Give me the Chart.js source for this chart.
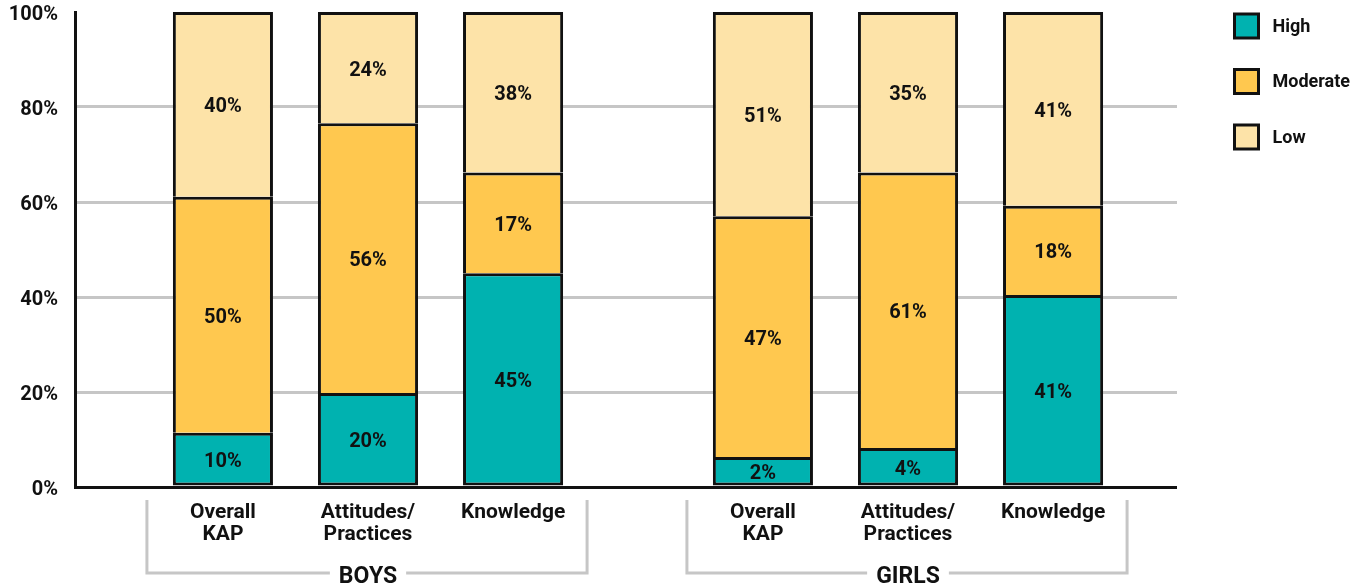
<!DOCTYPE html>
<html>
<head>
<meta charset="utf-8">
<script src="https://cdn.jsdelivr.net/npm/chart.js"></script>
<style>
  body { margin: 0; background: #fff; }
</style>
</head>
<body>
<canvas id="myChart" width="1366" height="585"></canvas>
<script>
const groups = ['BOYS', 'GIRLS'];
const measures = [['Overall', 'KAP'], ['Attitudes/', 'Practices'], ['Knowledge']];
const levels = ['High', 'Moderate', 'Low'];
const yTicks = [0, 20, 40, 60, 80, 100];

// printed percentages, order: Overall KAP, Attitudes/Practices, Knowledge
const boysHigh = [10, 20, 45];
const boysModerate = [50, 56, 17];
const boysLow = [40, 24, 38];
const girlsHigh = [2, 4, 41];
const girlsModerate = [47, 61, 18];
const girlsLow = [51, 35, 41];

// segment heights as drawn in the original (small ones are stretched there)
const boysHighDrawn = [11.4, 19.8, 45.0];
const boysModerateDrawn = [49.7, 56.8, 21.2];
const boysLowDrawn = [38.9, 23.4, 33.8];
const girlsHighDrawn = [6.3, 8.2, 40.4];
const girlsModerateDrawn = [50.7, 58.0, 18.8];
const girlsLowDrawn = [43.0, 33.8, 40.8];

const colors = ['#00b2b0', '#ffc84f', '#fde3a8'];
const ink = '#111';
const gridGrey = '#c6c6c6';
const font = 'Roboto';

Chart.defaults.font.family = font;

const printed = [[boysHigh, girlsHigh], [boysModerate, girlsModerate], [boysLow, girlsLow]];
const drawn = [[boysHighDrawn, girlsHighDrawn], [boysModerateDrawn, girlsModerateDrawn], [boysLowDrawn, girlsLowDrawn]];

// one stack per measure, BOYS and GIRLS as the two categories
const datasets = [];
measures.forEach((lines, m) => {
  levels.forEach((name, l) => {
    datasets.push({
      label: name,
      data: drawn[l].map(arr => arr[m]),
      printed: printed[l].map(arr => arr[m]),
      stack: 'm' + m,
      backgroundColor: colors[l],
      borderColor: ink,
      borderWidth: l === 0 ? 3 : {top: 3, left: 3, right: 3, bottom: 0},
      borderSkipped: false,
      categoryPercentage: 0.806,
      barPercentage: 0.69
    });
  });
});

// the x axis starts a bit right of the y axis line in the original
const shiftBars = {
  id: 'shiftBars',
  afterLayout(chart) {
    const x = chart.scales.x;
    x.left = chart.chartArea.left + 23;
    x.right = chart.chartArea.right + 1;
    x.configure();
  }
};

const drawText = {
  id: 'drawText',
  afterDatasetsDraw(chart) {
    const ctx = chart.ctx;
    const area = chart.chartArea;
    ctx.save();
    ctx.fillStyle = ink;
    ctx.textAlign = 'center';
    ctx.textBaseline = 'middle';

    // values inside the segments
    ctx.font = 'bold 20px ' + font;
    chart.data.datasets.forEach((ds, i) => {
      chart.getDatasetMeta(i).data.forEach((bar, j) => {
        ctx.fillText(ds.printed[j] + '%', bar.x, (bar.y + bar.base) / 2 + 3);
      });
    });

    // measure names under each bar
    ctx.font = 'bold 21px ' + font;
    measures.forEach((lines, m) => {
      chart.getDatasetMeta(m * 3).data.forEach(bar => {
        lines.forEach((t, k) => ctx.fillText(t, bar.x, area.bottom + 26 + k * 22));
      });
    });

    // group brackets
    ctx.strokeStyle = gridGrey;
    ctx.lineWidth = 3;
    ctx.font = 'bold 23px ' + font;
    groups.forEach((g, i) => {
      const first = chart.getDatasetMeta(0).data[i].x - 76;
      const last = chart.getDatasetMeta(6).data[i].x + 74;
      const cx = chart.scales.x.getPixelForValue(i);
      const yTop = area.bottom + 13;
      const yLine = area.bottom + 86;
      const half = ctx.measureText(g).width / 2 + 9;
      ctx.beginPath();
      ctx.moveTo(first, yTop);
      ctx.lineTo(first, yLine);
      ctx.lineTo(cx - half, yLine);
      ctx.moveTo(cx + half, yLine);
      ctx.lineTo(last, yLine);
      ctx.lineTo(last, yTop);
      ctx.stroke();
      ctx.fillText(g, cx, yLine + 4);
    });

    // legend
    ctx.textAlign = 'left';
    ctx.font = 'bold 18px ' + font;
    ctx.strokeStyle = ink;
    levels.forEach((name, l) => {
      const lx = area.right + 57.5;
      const ly = area.top + 14 + l * 55.5;
      ctx.fillStyle = colors[l];
      ctx.fillRect(lx, ly - 12, 24, 24);
      ctx.strokeRect(lx, ly - 12, 24, 24);
      ctx.fillStyle = ink;
      ctx.fillText(name, lx + 38, ly + 1);
    });
    ctx.restore();
  }
};

new Chart('myChart', {
  type: 'bar',
  data: {
    labels: groups,
    datasets: datasets
  },
  options: {
    responsive: false,
    animation: false,
    layout: { padding: { top: 12, right: 189, bottom: 98, left: 0 } },
    plugins: {
      legend: { display: false },
      tooltip: { enabled: false }
    },
    scales: {
      x: {
        stacked: true,
        display: false
      },
      y: {
        stacked: true,
        min: 0,
        max: 100,
        afterFit(scale) {
          scale.width = 75;
          scale.paddingTop = 0;
          scale.paddingBottom = 0;
        },
        afterBuildTicks(scale) { scale.ticks = yTicks.map(v => ({ value: v })); },
        ticks: {
          callback: v => v + '%',
          color: ink,
          padding: 17,
          labelOffset: 3,
          font: { size: 20, weight: 'bold' }
        },
        grid: {
          color: c => c.tick.value === 0 ? ink : (c.tick.value === 100 ? 'rgba(0,0,0,0)' : gridGrey),
          lineWidth: 3,
          drawTicks: false
        },
        border: { display: true, color: ink, width: 3 }
      }
    }
  },
  plugins: [shiftBars, drawText]
});
</script>
</body>
</html>
